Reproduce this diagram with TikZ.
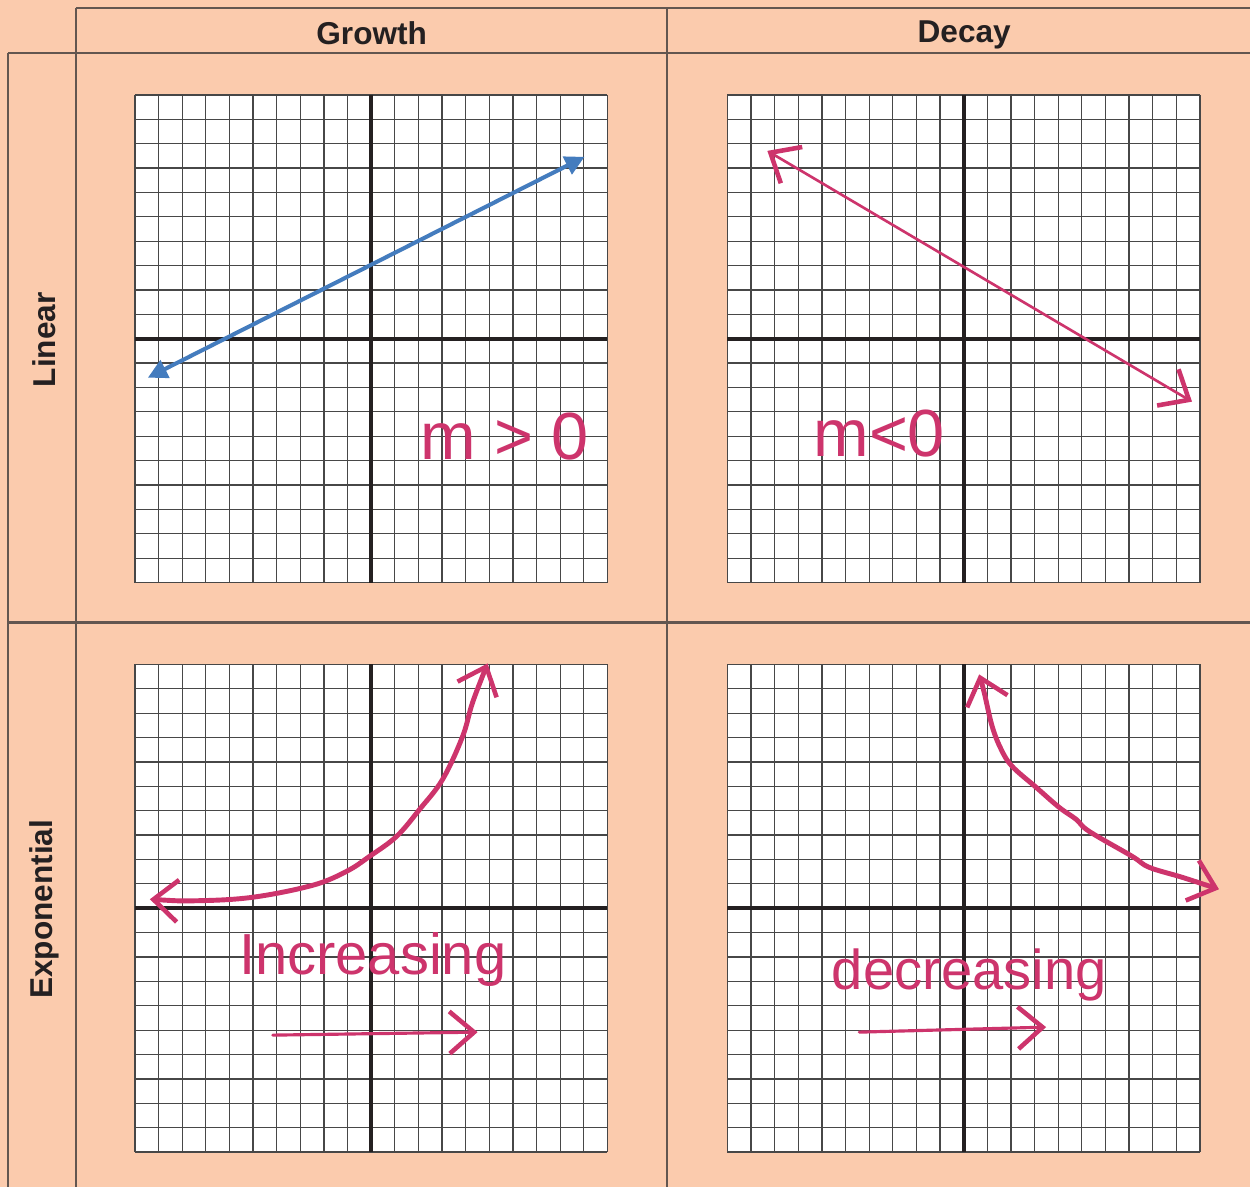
\documentclass[tikz,border=0pt]{standalone}
\usepackage{fontspec}
\setmainfont{Liberation Sans}
\usetikzlibrary{arrows.meta,positioning}
\definecolor{peach}{RGB}{251,203,173}
\definecolor{tabline}{RGB}{98,86,80}
\definecolor{ink}{RGB}{36,32,33}
\definecolor{pen}{RGB}{205,52,108}
\definecolor{lineblue}{RGB}{68,124,190}

\begin{document}
\begin{tikzpicture}[x=0.02cm,y=-0.02cm,
  rulel/.style={draw=tabline,line width=1.2pt},
  hdr/.style={font=\bfseries\fontsize{18}{21}\selectfont,text=ink,inner sep=0pt},
  hand/.style={text=pen,font=\fontsize{38}{44}\selectfont,inner sep=0pt,anchor=base},
  gridl/.style={draw=black!72,line width=0.7pt},
  axis/.style={draw=ink,line width=2.4pt},
  penthin/.style={pen,line width=1.5pt,line cap=round},
  penthick/.style={pen,line width=2.8pt,line cap=round,line join=round},
  hb/.tip={Straight Barb[length=14pt,width=24pt,line width=2.6pt]},
  bt/.tip={Triangle[length=11pt,width=11pt]}]
  % table
  \fill[peach] (0,0) rectangle (1251,1188);
  \draw[rulel] (76,8) -- (1251,8);
  \draw[rulel] (8,53) -- (1251,53);
  \draw[rulel] (8,623) -- (1251,623);
  \draw[rulel] (8,53) -- (8,1188);
  \draw[rulel] (76,8) -- (76,1188);
  \draw[rulel] (668,8) -- (668,1188);
  \node[hdr] (growth) at (372,33) {Growth};
  \node[hdr] (decay) at (965,35) {Decay};
  \node[hdr,rotate=90] (linear) at (44,340) {Linear};
  \node[hdr,rotate=90] (expo) at (44,910) {Exponential};
  % grids
  \foreach \gx/\gy in {135/95,728/95,135/665,728/665}{
    \fill[white] (\gx,\gy) rectangle ++(473,488);
    \foreach \i in {0,...,20}{
      \draw[gridl] ({\gx+\i*23.65},\gy) -- ++(0,488);
      \draw[gridl] (\gx,{\gy+\i*24.4}) -- ++(473,0);
    }
    \draw[axis] ({\gx+236.5},\gy) -- ++(0,488);
    \draw[axis] (\gx,{\gy+244}) -- ++(473,0);
  }
  % linear growth
  \coordinate (blue lo) at (148,378);
  \coordinate (blue hi) at (585,157);
  \draw[lineblue,line width=2.3pt,{bt}-{bt}] (blue lo) -- (blue hi);
  \node[hand] (mpos) at (505,460) {m > 0};
  % linear decay
  \coordinate (neg hi) at (768,151);
  \coordinate (neg lo) at (1193,402);
  \draw[penthin,{hb}-{hb}] (neg hi) -- (neg lo);
  \node[hand] (mneg) at (880,457) {m<0};
  % exponential growth
  \draw[penthick,{hb}-{hb}] plot[smooth,tension=0.6] coordinates {(150,900) (197,901.5) (253,898)
    (313,886) (347,872) (370,857) (397,837) (420,810) (443,780) (463,737) (473,703) (488,664)};
  \node[hand,font=\fontsize{33}{38}\selectfont] (inc) at (373,975) {Increasing};
  \coordinate (inc a) at (273,1036);
  \coordinate (inc b) at (478,1033);
  \draw[penthin,line width=1.8pt,-{hb}] (inc a) -- (inc b);
  % exponential decay
  \draw[penthick,{hb}-{hb}] plot[smooth,tension=0.6] coordinates {(980,675) (985,693) (993,727)
    (1002,750) (1013,767) (1037,788) (1060,808) (1077,820) (1090,832) (1133,857) (1150,868)
    (1183,878) (1220,890)};
  \node[hand,font=\fontsize{32}{37}\selectfont] (dec) at (970,990) {decreasing};
  \coordinate (dec a) at (860,1033);
  \coordinate (dec b) at (1047,1028);
  \draw[penthin,line width=1.8pt,-{hb}] (dec a) -- (dec b);
\end{tikzpicture}
\end{document}
